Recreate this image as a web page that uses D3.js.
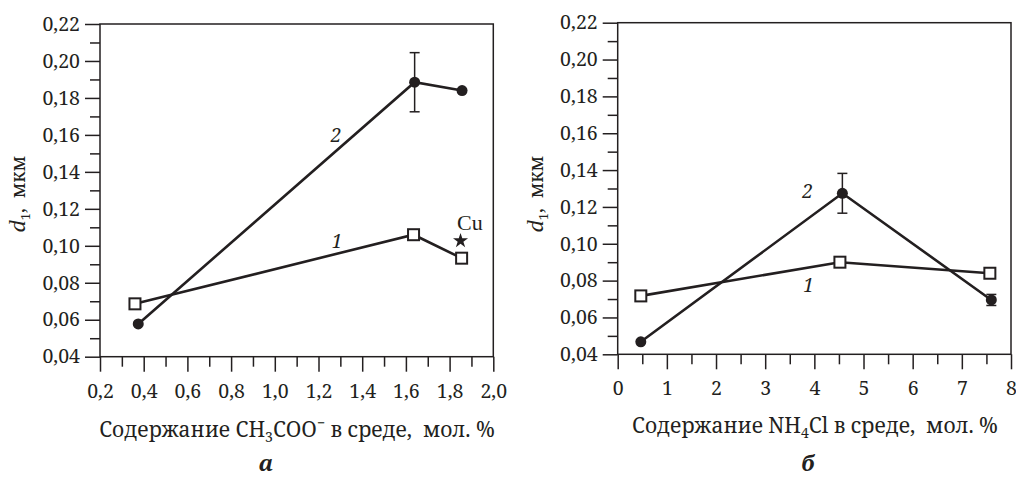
<!DOCTYPE html>
<html>
<head>
<meta charset="utf-8">
<title>d1 vs content</title>
<style>
  body { margin: 0; background: #fff; }
  .axis path { display: none; }
  .axis line { stroke: #231f20; stroke-width: 1.5; }
</style>
<script src="https://cdn.jsdelivr.net/npm/d3@7/dist/d3.min.js"></script>
</head>
<body>
<script>
// ---------- data ----------
// panel a: CH3COO- content
var xA1 = [0.36, 1.635, 1.855];
var dA1 = [0.0686, 0.106, 0.0933];
var xA2 = [0.375, 1.64, 1.857];
var dA2 = [0.0577, 0.1885, 0.184];
var eA2 = [0, 0.016, 0];
var cuX = 1.85, cuD = 0.1027;

// panel b: NH4Cl content
var xB1 = [0.47, 4.52, 7.57];
var dB1 = [0.0717, 0.090, 0.084];
var xB2 = [0.47, 4.57, 7.6];
var dB2 = [0.0468, 0.1274, 0.0695];
var eB2 = [0, 0.0108, 0.003];

var yTicks = [0.04, 0.06, 0.08, 0.10, 0.12, 0.14, 0.16, 0.18, 0.20, 0.22];
var yMinor = [0.05, 0.07, 0.09, 0.11, 0.13, 0.15, 0.17, 0.19, 0.21];
var xTicksA = [0.2, 0.4, 0.6, 0.8, 1.0, 1.2, 1.4, 1.6, 1.8, 2.0];
var xMinorA = [0.3, 0.5, 0.7, 0.9, 1.1, 1.3, 1.5, 1.7, 1.9];
var xTicksB = [0, 1, 2, 3, 4, 5, 6, 7, 8];
var xMinorB = [0.5, 1.5, 2.5, 3.5, 4.5, 5.5, 6.5, 7.5];

var ink = "#231f20";
// digits and Cyrillic: Noto Serif (Liberation Serif falls back to sans for them here)
var serif = "'Noto Serif', 'DejaVu Serif', serif";
var times = "'Liberation Serif', 'Noto Serif', serif";
var width = 1016, height = 479;

var svg = d3.select("body").append("svg")
    .attr("width", width)
    .attr("height", height)
    .attr("font-family", serif);

function comma(fmt) {
  return function(d) { return d3.format(fmt)(d).replace(".", ","); };
}

function styleAxis(sel) {
  sel.attr("font-family", serif).attr("font-size", 19.5);
  sel.selectAll("text").attr("fill", ink);
}

function drawPanel(p) {
  var x = d3.scaleLinear().domain(p.xDomain).range([p.left, p.right]);
  var y = d3.scaleLinear().domain([0.04, 0.22]).range([p.bottom, p.top]);
  var g = svg.append("g");

  // minor ticks
  g.append("g").attr("class", "axis")
    .attr("transform", "translate(0," + p.bottom + ")")
    .call(d3.axisBottom(x).tickValues(p.xMinor).tickSize(10).tickSizeOuter(0).tickFormat(""));
  g.append("g").attr("class", "axis")
    .attr("transform", "translate(" + p.left + ",0)")
    .call(d3.axisLeft(y).tickValues(yMinor).tickSize(10).tickSizeOuter(0).tickFormat(""));

  // major ticks
  g.append("g").attr("class", "axis")
    .attr("transform", "translate(0," + p.bottom + ")")
    .call(d3.axisBottom(x).tickValues(p.xTicks).tickSize(15).tickPadding(12)
      .tickSizeOuter(0).tickFormat(p.xFormat))
    .call(styleAxis);
  g.append("g").attr("class", "axis")
    .attr("transform", "translate(" + p.left + ",0)")
    .call(d3.axisLeft(y).tickValues(yTicks).tickSize(15).tickPadding(5)
      .tickSizeOuter(0).tickFormat(comma(".2f")))
    .call(styleAxis);

  // frame
  g.append("rect")
    .attr("x", p.left).attr("y", p.top)
    .attr("width", p.right - p.left).attr("height", p.bottom - p.top)
    .attr("fill", "none").attr("stroke", ink).attr("stroke-width", 1.5);

  var line = d3.line().x(function(d) { return x(d[0]); }).y(function(d) { return y(d[1]); });
  var s1 = p.x1.map(function(v, i) { return [v, p.d1[i]]; });
  var s2 = p.x2.map(function(v, i) { return [v, p.d2[i], p.e2[i]]; });

  g.append("path").datum(s1).attr("d", line)
    .attr("fill", "none").attr("stroke", ink).attr("stroke-width", 2.6);
  g.append("path").datum(s2).attr("d", line)
    .attr("fill", "none").attr("stroke", ink).attr("stroke-width", 2.6);

  // error bars
  var eb = g.selectAll(".eb").data(s2.filter(function(d) { return d[2] > 0; }))
    .enter().append("g").attr("class", "eb");
  eb.append("line")
    .attr("x1", function(d) { return x(d[0]); }).attr("x2", function(d) { return x(d[0]); })
    .attr("y1", function(d) { return y(d[1] - d[2]); }).attr("y2", function(d) { return y(d[1] + d[2]); })
    .attr("stroke", ink).attr("stroke-width", 1.5);
  [-1, 1].forEach(function(sgn) {
    eb.append("line")
      .attr("x1", function(d) { return x(d[0]) - 5; }).attr("x2", function(d) { return x(d[0]) + 5; })
      .attr("y1", function(d) { return y(d[1] + sgn * d[2]); }).attr("y2", function(d) { return y(d[1] + sgn * d[2]); })
      .attr("stroke", ink).attr("stroke-width", 1.5);
  });

  // markers
  g.selectAll(".sq").data(s1).enter().append("rect")
    .attr("x", function(d) { return x(d[0]) - 5.5; })
    .attr("y", function(d) { return y(d[1]) - 5.5; })
    .attr("width", 11).attr("height", 11)
    .attr("fill", "#fff").attr("stroke", ink).attr("stroke-width", 2);
  g.selectAll(".dot").data(s2).enter().append("circle")
    .attr("cx", function(d) { return x(d[0]); })
    .attr("cy", function(d) { return y(d[1]); })
    .attr("r", 5.5).attr("fill", ink);

  // curve numbers
  g.append("text").attr("x", p.lab2[0]).attr("y", p.lab2[1])
    .attr("text-anchor", "middle").attr("font-style", "italic")
    .attr("font-size", 19).attr("fill", ink).text("2");
  g.append("text").attr("x", p.lab1[0]).attr("y", p.lab1[1])
    .attr("text-anchor", "middle").attr("font-style", "italic")
    .attr("font-size", 19).attr("fill", ink).text("1");

  // y title
  var yt = g.append("text")
    .attr("transform", "translate(" + p.yTitle[0] + "," + p.yTitle[1] + ") rotate(-90)")
    .attr("text-anchor", "middle").attr("font-size", 19).attr("fill", ink)
    .attr("xml:space", "preserve");
  yt.append("tspan").attr("font-family", times).attr("font-style", "italic").attr("font-size", 24).text("d");
  yt.append("tspan").attr("font-size", 13).attr("dy", 5).text("1");
  yt.append("tspan").attr("dy", -5).text(",  мкм");

  // x title
  var xt = g.append("text")
    .attr("x", p.xTitle[0]).attr("y", p.xTitle[1])
    .attr("text-anchor", "middle").attr("font-size", 21).attr("fill", ink)
    .attr("xml:space", "preserve");
  p.xTitleParts.forEach(function(part) {
    var t = xt.append("tspan").text(part[0]);
    if (part[1] === "sub") t.attr("font-size", 14).attr("dy", 5);
    if (part[1] === "sup") t.attr("font-size", 14).attr("dy", -9);
    if (part[1] === "back") t.attr("dy", part[2]);
  });

  // panel letter
  g.append("text").attr("x", p.letter[0]).attr("y", p.letter[1])
    .attr("text-anchor", "middle").attr("font-style", "italic").attr("font-weight", "bold")
    .attr("font-size", 22).attr("fill", ink).text(p.letter[2]);

  return { x: x, y: y, g: g };
}

var pa = drawPanel({
  left: 100, right: 493.3, top: 24, bottom: 356.7,
  xDomain: [0.2, 2.0], xTicks: xTicksA, xMinor: xMinorA, xFormat: comma(".1f"),
  x1: xA1, d1: dA1, x2: xA2, d2: dA2, e2: eA2,
  lab2: [336, 142], lab1: [337, 248],
  yTitle: [25, 194], xTitle: [297, 437],
  xTitleParts: [["Содержание CH"], ["3", "sub"], ["COO", "back", -5], ["\u2212", "sup"], [" в среде,  мол. %", "back", 9]],
  letter: [266, 471, "а"]
});

// Cu point
var star = d3.symbol().type(d3.symbolStar).size(70);
pa.g.append("path").attr("d", star())
  .attr("transform", "translate(" + pa.x(cuX) + "," + pa.y(cuD) + ")")
  .attr("fill", ink);
pa.g.append("text").attr("x", 457).attr("y", 230)
  .attr("font-family", times).attr("font-size", 22).attr("fill", ink).text("Cu");

drawPanel({
  left: 617.7, right: 1011, top: 22.7, bottom: 354.3,
  xDomain: [0, 8], xTicks: xTicksB, xMinor: xMinorB, xFormat: d3.format("d"),
  x1: xB1, d1: dB1, x2: xB2, d2: dB2, e2: eB2,
  lab2: [807.5, 198], lab1: [808.5, 291.7],
  yTitle: [543, 194], xTitle: [815, 433],
  xTitleParts: [["Содержание NH"], ["4", "sub"], ["Cl в среде,  мол. %", "back", -5]],
  letter: [808, 471, "б"]
});
</script>
</body>
</html>
